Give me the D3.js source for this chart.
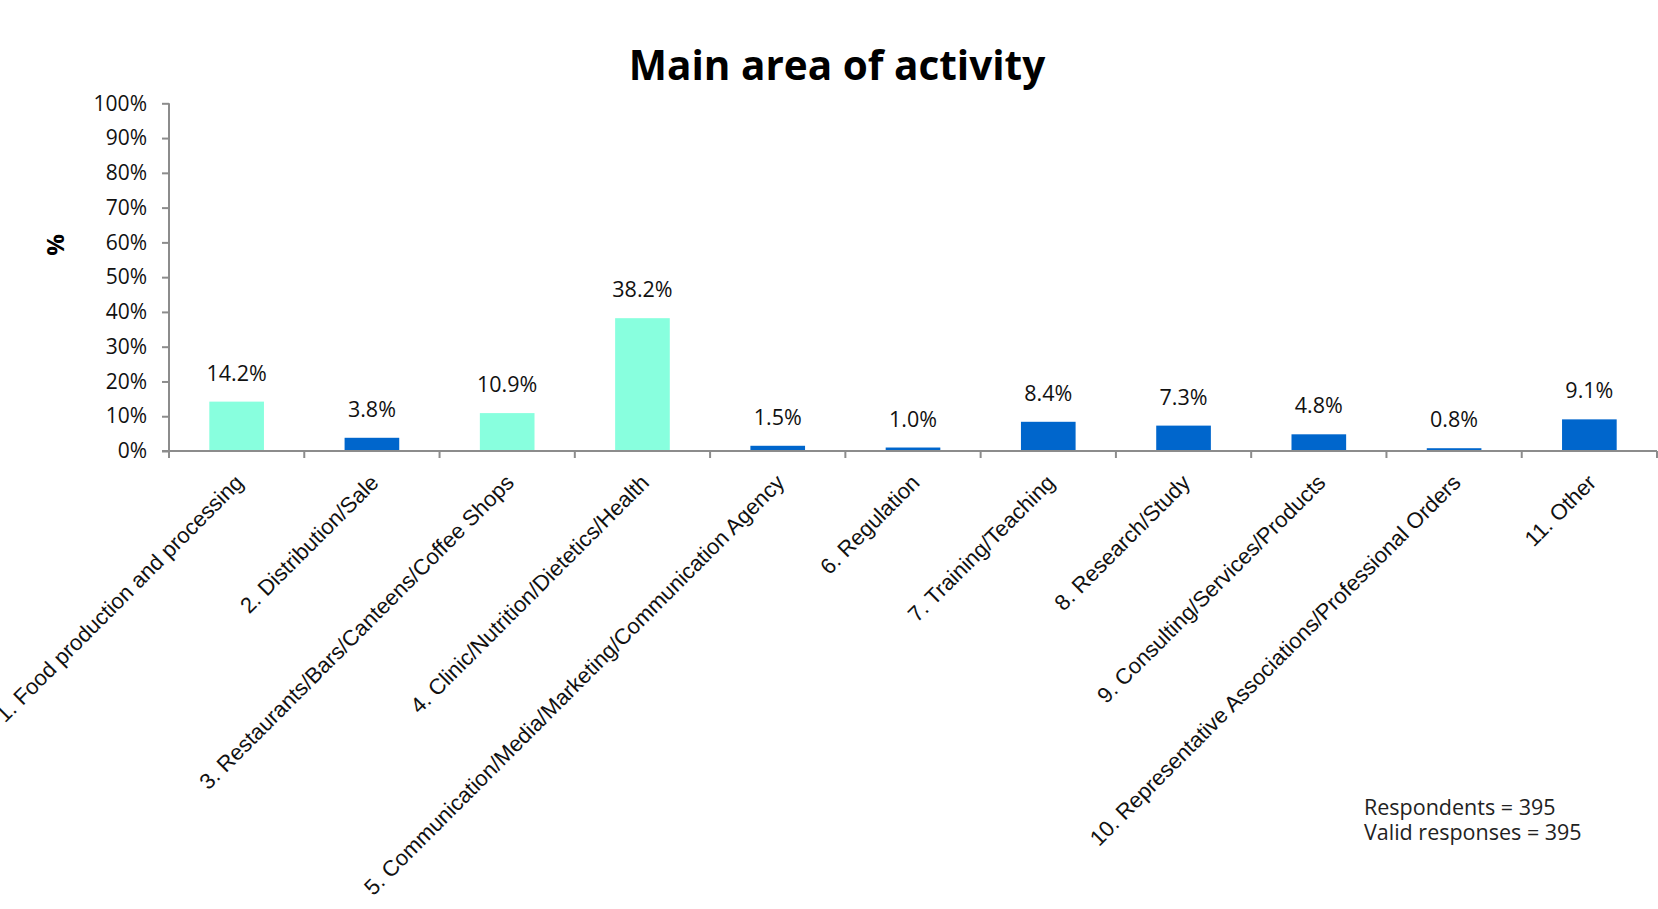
<!DOCTYPE html>
<html>
<head>
<meta charset="utf-8">
<script src="https://cdn.jsdelivr.net/npm/d3@7"></script>
<style>
  html, body { margin: 0; padding: 0; background: #ffffff; }
  svg { display: block; }
</style>
</head>
<body>
<svg id="chart" width="1658" height="909"></svg>
<script>
// ---- data ----
const categories = [
  "1. Food production and processing",
  "2. Distribution/Sale",
  "3. Restaurants/Bars/Canteens/Coffee Shops",
  "4. Clinic/Nutrition/Dietetics/Health",
  "5. Communication/Media/Marketing/Communication Agency",
  "6. Regulation",
  "7. Training/Teaching",
  "8. Research/Study",
  "9. Consulting/Services/Products",
  "10. Representative Associations/Professional Orders",
  "11. Other"
];
const values = [14.2, 3.8, 10.9, 38.2, 1.5, 1.0, 8.4, 7.3, 4.8, 0.8, 9.1];
const highlighted = [true, false, true, true, false, false, false, false, false, false, false];
const yTicks = [0, 10, 20, 30, 40, 50, 60, 70, 80, 90, 100];
const chartTitle = "Main area of activity";
const yTitle = "%";
const notes = ["Respondents = 395", "Valid responses = 395"];

// ---- layout ----
(function () {
const svg = d3.select("#chart");
const mLeft = 169, mRight = 1657, mTop = 103.3, mBottom = 451;
const axisColor = "#8c8c8c";
const uiFont = "'Open Sans', 'Noto Sans', sans-serif";
const catFont = "'Liberation Sans', Arial, sans-serif";

const x = d3.scaleBand().domain(categories).range([mLeft, mRight]).paddingInner(0.596).paddingOuter(0.298);
const xb = d3.scaleBand().domain(categories).range([mLeft, mRight]); // full bands for ticks
const y = d3.scaleLinear().domain([0, 100]).range([mBottom, mTop]);

// title
svg.append("text")
  .attr("x", 837).attr("y", 80)
  .attr("text-anchor", "middle")
  .style("font-family", uiFont).style("font-weight", "700")
  .style("font-size", "40.5px").attr("fill", "#000")
  .text(chartTitle);

// bars
svg.append("g").selectAll("rect")
  .data(values)
  .join("rect")
  .attr("x", (d, i) => x(categories[i]))
  .attr("width", x.bandwidth())
  .attr("y", d => y(d))
  .attr("height", d => y(0) - y(d))
  .attr("fill", (d, i) => highlighted[i] ? "#88FFDE" : "#0066CC");

// value labels
svg.append("g").selectAll("text")
  .data(values)
  .join("text")
  .attr("x", (d, i) => x(categories[i]) + x.bandwidth() / 2)
  .attr("y", d => y(d) - 21)
  .attr("text-anchor", "middle")
  .style("font-family", uiFont).style("font-size", "21.5px")
  .attr("fill", "#111")
  .text(d => d.toFixed(1) + "%");

// y axis
const yAxis = d3.axisLeft(y).tickValues(yTicks).tickFormat(d => d + "%").tickSize(7).tickPadding(15);
const gy = svg.append("g").attr("transform", `translate(${mLeft},0)`).call(yAxis);
gy.select(".domain").attr("stroke", axisColor).attr("stroke-width", 2).attr("d", `M0,${mTop}V${mBottom}`);
gy.selectAll(".tick line").attr("stroke", axisColor).attr("stroke-width", 2);
gy.selectAll(".tick text").style("font-family", uiFont).style("font-size", "21px").attr("fill", "#111");

// x axis line + ticks at band boundaries
const gx = svg.append("g");
gx.append("line").attr("x1", mLeft - 7).attr("x2", mRight).attr("y1", mBottom).attr("y2", mBottom)
  .attr("stroke", axisColor).attr("stroke-width", 2);
const boundaries = categories.map(c => xb(c)).concat([mRight]);
gx.selectAll("line.tk").data(boundaries).join("line").attr("class", "tk")
  .attr("x1", d => d).attr("x2", d => d).attr("y1", mBottom).attr("y2", mBottom + 7)
  .attr("stroke", axisColor).attr("stroke-width", 2);

// category labels rotated
svg.append("g").selectAll("text")
  .data(categories)
  .join("text")
  .attr("transform", d => `translate(${xb(d) + xb.bandwidth() / 2 + 8},${mBottom + 33}) rotate(-45)`)
  .attr("text-anchor", "end")
  .style("font-family", catFont).style("font-size", "22px")
  .attr("fill", "#111")
  .text(d => d);

// y title
svg.append("text")
  .attr("transform", "translate(64,245) rotate(-90)")
  .attr("text-anchor", "middle")
  .style("font-family", uiFont).style("font-weight", "700").style("font-size", "24px")
  .attr("fill", "#000")
  .text(yTitle);

// notes
svg.append("g").selectAll("text")
  .data(notes)
  .join("text")
  .attr("x", 1364)
  .attr("y", (d, i) => 815 + i * 25)
  .style("font-family", uiFont).style("font-size", "21.5px")
  .attr("fill", "#222")
  .text(d => d);
})();
</script>
</body>
</html>
